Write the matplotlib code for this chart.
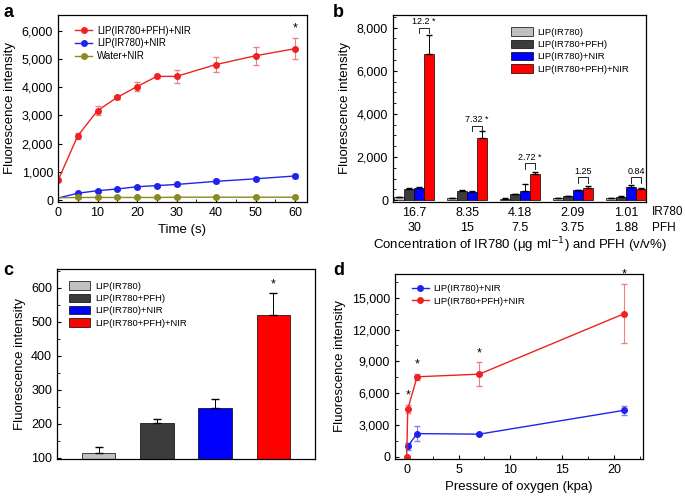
import matplotlib
matplotlib.use('Agg')
import matplotlib.pyplot as plt
import numpy as np
from matplotlib.ticker import FuncFormatter, MultipleLocator
from matplotlib.patches import Patch
from matplotlib.lines import Line2D

plt.rcParams['font.family'] = ['Liberation Sans', 'DejaVu Sans']
plt.rcParams['font.size'] = 9
plt.rcParams['axes.linewidth'] = 0.9

# ---- panel a: fluorescence vs time ----
t_a = [0, 5, 10, 15, 20, 25, 30, 40, 50, 60]
red_a = [700, 2280, 3170, 3640, 4020, 4380, 4380, 4800, 5110, 5360]
red_a_err = [0, 100, 150, 50, 150, 50, 230, 270, 320, 370]
blue_a = [80, 250, 340, 400, 480, 520, 560, 670, 760, 860]
blue_a_err = [0, 30, 40, 40, 40, 50, 50, 70, 60, 60]
green_a = [90, 100, 100, 100, 100, 100, 110, 110, 110, 110]
green_a_err = [0, 20, 20, 20, 20, 20, 20, 20, 20, 20]

# ---- panel b: bars vs concentration ----
conc_ir780 = ['16.7', '8.35', '4.18', '2.09', '1.01']
conc_pfh = ['30', '15', '7.5', '3.75', '1.88']
b_gray = [130, 100, 70, 80, 100]
b_gray_err = [20, 15, 10, 10, 10]
b_dark = [520, 440, 270, 180, 150]
b_dark_err = [40, 30, 20, 20, 20]
b_blue = [560, 390, 400, 470, 600]
b_blue_err = [30, 50, 350, 20, 120]
b_red = [6780, 2900, 1200, 570, 520]
b_red_err = [900, 300, 100, 80, 30]
b_ratio = ['12.2', '7.32', '2.72', '1.25', '0.84']
b_signif = [True, True, True, False, False]
b_bracket = [8000, 3450, 1700, 1050, 1050]

# ---- panel c ----
c_vals = [115, 202, 247, 520]
c_err = [15, 12, 27, 65]

# ---- panel d: oxygen pressure ----
d_x_blue = [0.1, 1, 7, 21]
d_blue = [1000, 2200, 2150, 4400]
d_blue_err = [300, 700, 100, 400]
d_x_red = [0, 0.1, 1, 7, 21]
d_red = [0, 4500, 7550, 7800, 13500]
d_red_err = [0, 400, 300, 1100, 2800]

group_names = ['LIP(IR780)', 'LIP(IR780+PFH)', 'LIP(IR780)+NIR', 'LIP(IR780+PFH)+NIR']
bar_colors = ['#c0c0c0', '#3c3c3c', '#0000ff', '#ff0000']

RED = '#ee2222'
BLUE = '#2222ee'
OLIVE = '#8a8a1e'

W, H = 685, 496
fig = plt.figure(figsize=(W / 100, H / 100), dpi=100)


def box(l, r, t, b):
    return [l / W, 1 - b / H, (r - l) / W, (b - t) / H]


comma = FuncFormatter(lambda v, p: f'{v:,.0f}')


def style(ax):
    ax.tick_params(direction='in', which='both', labelsize=9)
    ax.tick_params(which='major', length=3)
    ax.tick_params(which='minor', length=2)


def line_handle(c):
    return Line2D([], [], color=c, marker='o', ms=4, lw=1)


# panel a
ax = fig.add_axes(box(58, 307, 15, 202))
ax.errorbar(t_a, red_a, yerr=red_a_err, color=RED, marker='o', ms=4, lw=1,
            ecolor='#f08080', elinewidth=0.8, capsize=2)
ax.errorbar(t_a[1:], blue_a[1:], yerr=blue_a_err[1:], color=BLUE, marker='o', ms=4, lw=1,
            ecolor='#8080f0', elinewidth=0.8, capsize=2)
ax.plot(t_a[:2], blue_a[:2], color=BLUE, lw=1)
ax.errorbar(t_a[1:], green_a[1:], yerr=green_a_err[1:], color=OLIVE, marker='o', ms=4, lw=1,
            ecolor=OLIVE, elinewidth=0.8, capsize=2)
ax.plot(t_a[:2], green_a[:2], color=OLIVE, lw=1)
ax.text(t_a[-1], red_a[-1] + red_a_err[-1] + 150, '*', ha='center', va='bottom', fontsize=9)
ax.set_xlim(0, 63)
ax.set_ylim(-60, 6550)
ax.set_xticks([0, 10, 20, 30, 40, 50, 60])
ax.xaxis.set_minor_locator(MultipleLocator(5))
ax.set_yticks(range(0, 6001, 1000))
ax.yaxis.set_major_formatter(comma)
ax.set_xlabel('Time (s)', fontsize=9.5)
ax.set_ylabel('Fluorescence intensity', fontsize=9.5)
style(ax)
ax.legend([line_handle(RED), line_handle(BLUE), line_handle(OLIVE)],
          ['LIP(IR780+PFH)+NIR', 'LIP(IR780)+NIR', 'Water+NIR'],
          loc='upper left', bbox_to_anchor=(0.04, 0.98), fontsize=7, frameon=False,
          handlelength=1.8, handletextpad=0.5, labelspacing=0.3, borderpad=0.2)

# panel b
ax = fig.add_axes(box(393, 646, 15, 202))
x = np.arange(len(conc_ir780))
bw = 0.19
series = [(b_gray, b_gray_err), (b_dark, b_dark_err), (b_blue, b_blue_err), (b_red, b_red_err)]
for i, (vals, errs) in enumerate(series):
    pos = x + (i - 1.5) * bw
    ax.bar(pos, vals, bw, color=bar_colors[i], edgecolor='black', lw=0.5, label=group_names[i])
    ax.errorbar(pos, vals, yerr=[np.zeros(len(vals)), errs], fmt='none', ecolor='black',
                elinewidth=0.7, capsize=2.5)
for i in range(len(x)):
    x1 = x[i] + 0.5 * bw
    x2 = x[i] + 1.5 * bw
    yb = b_bracket[i]
    ax.plot([x1, x1, x2, x2], [yb - 250, yb, yb, yb - 250], color='black', lw=0.6)
    lab = b_ratio[i] + (' *' if b_signif[i] else '')
    ax.text(x[i] + bw, yb + 80, lab, ha='center', va='bottom', fontsize=6.5)
ax.set_xlim(-0.4, 4.38)
ax.set_ylim(-90, 8590)
ax.set_xticks(x)
ax.set_xticklabels([f'{a}\n{b}' for a, b in zip(conc_ir780, conc_pfh)], fontsize=9, linespacing=1.35)
ax.set_yticks(range(0, 8001, 2000))
ax.yaxis.set_minor_locator(MultipleLocator(500))
ax.yaxis.set_major_formatter(comma)
style(ax)
ax.tick_params(axis='x', which='both', length=0)
ax.text(1.025, -0.02, 'IR780\nPFH', transform=ax.transAxes, ha='left', va='top',
        fontsize=8.5, linespacing=1.45)
ax.set_xlabel('Concentration of IR780 (\u03bcg ml$^{-1}$) and PFH (v/v%)', fontsize=9.5, labelpad=1)
ax.set_ylabel('Fluorescence intensity', fontsize=9.5)
ax.legend(loc='upper left', bbox_to_anchor=(0.44, 0.97), fontsize=6.8, frameon=False,
          handlelength=2.3, handleheight=1.0, handletextpad=0.5, labelspacing=0.3, borderpad=0.2)

# panel c
ax = fig.add_axes(box(57, 315, 269, 459))
xc = np.arange(len(c_vals))
ax.bar(xc, c_vals, 0.57, color=bar_colors, edgecolor='black', lw=0.5)
ax.errorbar(xc, c_vals, yerr=[np.zeros(len(c_vals)), c_err], fmt='none', ecolor='black',
            elinewidth=0.7, capsize=3)
ax.text(xc[-1], c_vals[-1] + c_err[-1] + 8, '*', ha='center', va='bottom', fontsize=9)
ax.set_xlim(-0.72, 3.72)
ax.set_ylim(96, 656)
ax.set_xticks([])
ax.set_yticks(range(100, 601, 100))
ax.yaxis.set_minor_locator(MultipleLocator(50))
ax.set_ylabel('Fluorescence intensity', fontsize=9.5)
style(ax)
handles = [Patch(facecolor=c, edgecolor='black', lw=0.5) for c in bar_colors]
ax.legend(handles, group_names, loc='upper left', bbox_to_anchor=(0.02, 0.97), fontsize=6.8,
          frameon=False, handlelength=2.3, handleheight=1.0, handletextpad=0.5,
          labelspacing=0.3, borderpad=0.2)

# panel d
ax = fig.add_axes(box(395, 643, 274, 459))
ax.errorbar(d_x_blue, d_blue, yerr=d_blue_err, color=BLUE, marker='o', ms=4, lw=1,
            ecolor='#8080f0', elinewidth=0.8, capsize=2)
ax.errorbar(d_x_red, d_red, yerr=d_red_err, color=RED, marker='o', ms=4, lw=1,
            ecolor='#f08080', elinewidth=0.8, capsize=2)
for xs, ys, es in zip(d_x_red[1:], d_red[1:], d_red_err[1:]):
    ax.text(xs, ys + es + 300, '*', ha='center', va='bottom', fontsize=9)
ax.set_xlim(-1.13, 22.8)
ax.set_ylim(-190, 17230)
ax.set_xticks([0, 5, 10, 15, 20])
ax.xaxis.set_minor_locator(MultipleLocator(2.5))
ax.set_yticks(range(0, 15001, 3000))
ax.yaxis.set_minor_locator(MultipleLocator(1500))
ax.yaxis.set_major_formatter(comma)
ax.set_xlabel('Pressure of oxygen (kpa)', fontsize=9.5)
ax.set_ylabel('Fluorescence intensity', fontsize=9.5)
style(ax)
ax.legend([line_handle(BLUE), line_handle(RED)], ['LIP(IR780)+NIR', 'LIP(IR780+PFH)+NIR'],
          loc='upper left', bbox_to_anchor=(0.04, 0.98), fontsize=6.8, frameon=False,
          handlelength=1.8, handletextpad=0.5, labelspacing=0.35, borderpad=0.2)

# panel letters
for lab, px, py in [('a', 3, 4), ('b', 333, 4), ('c', 3, 262), ('d', 333, 262)]:
    fig.text(px / W, 1 - py / H, lab, fontsize=13, fontweight='bold', ha='left', va='top')

fig.savefig('out.png', dpi=100)
